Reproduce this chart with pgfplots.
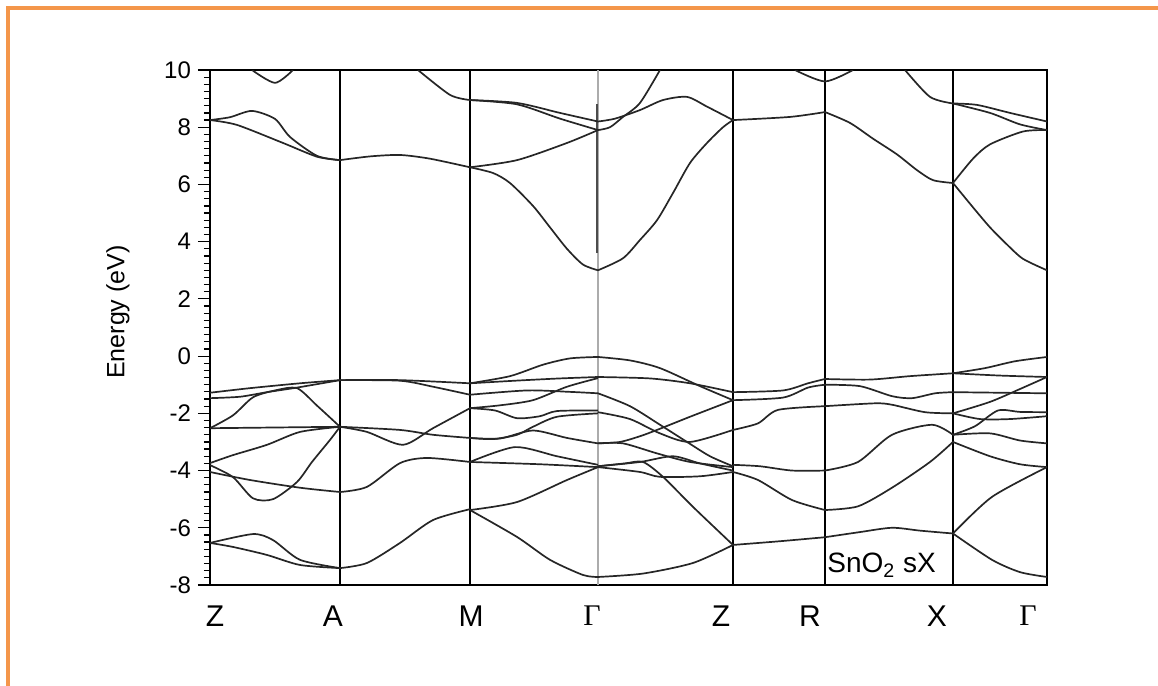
\documentclass[border=0pt]{standalone}
\usepackage{fontspec}
\setmainfont{Liberation Sans}
\newfontfamily\gfont{Liberation Serif}
\usepackage{pgfplots}
\pgfplotsset{compat=1.18}
\definecolor{frameorange}{RGB}{244,150,74}
\pgfplotsset{band/.style={no marks, smooth, tension=0.45, color=black!85, line width=0.85pt}}
\begin{document}
\begin{tikzpicture}
\useasboundingbox (-105pt,-50.5pt) rectangle (474pt,292.5pt);
\fill[frameorange] (-102pt,287.5pt) rectangle (474pt,289.5pt);
\fill[frameorange] (-102pt,-50.5pt) rectangle (-100pt,289.5pt);
\begin{axis}[
  at={(0pt,0pt)}, anchor=south west, scale only axis,
  width=418.5pt, height=257.5pt,
  xmin=210, xmax=1047, ymin=-8, ymax=10,
  xtick={215,333,471,592,721,810,937,1028},
  xticklabels={Z,A,M,{\gfont Γ},Z,R,X,{\gfont Γ}},
  ytick={-8,-6,...,10}, minor y tick num=7,
  ytick pos=left, xtick pos=bottom,
  tick align=outside, major tick length=6pt, minor tick length=3pt,
  x tick style={draw=none},
  tick style={black, line width=0.6pt},
  axis line style={line width=1pt},
  yticklabel style={font=\fontsize{12}{14}\selectfont},
  xticklabel style={font=\fontsize{15}{18}\selectfont, yshift=-1pt},
  /pgf/number format/assume math mode=true,
  ylabel={Energy (eV)},
  ylabel style={at={(axis description cs:-0.110,0.53)}, anchor=center, font=\fontsize{12.5}{15}\selectfont},
]
% vertical lines at high-symmetry points
\addplot[black, line width=0.8pt] coordinates {(340,-8) (340,10)};
\addplot[black, line width=1.1pt] coordinates {(470,-8) (470,10)};
\addplot[gray!65, line width=0.7pt] coordinates {(598,-8) (598,10)};
\addplot[black!70, line width=0.6pt] coordinates {(597,3.6) (597,8.8)};
\addplot[black, line width=0.8pt] coordinates {(733,-8) (733,10)};
\addplot[black, line width=0.8pt] coordinates {(825,-8) (825,10)};
\addplot[black, line width=0.8pt] coordinates {(953,-8) (953,10)};
% conduction bands
\addplot[band] coordinates {(252,10) (275,9.55) (293,10)};
\addplot[band] coordinates {(210,8.25) (230,8.35) (252,8.57) (275,8.29) (290,7.66) (317,7.0) (340,6.85)};
\addplot[band] coordinates {(210,8.25) (237,8.08) (283,7.45) (317,6.97) (340,6.85)};
\addplot[band] coordinates {(340,6.85) (370,6.98) (400,7.03) (430,6.9) (470,6.6)};
\addplot[band] coordinates {(470,6.6) (517,6.85) (567,7.45) (598,7.9)};
\addplot[band] coordinates {(470,6.6) (493,6.4) (510,6.05) (533,5.25) (550,4.5) (567,3.75) (583,3.2) (598,3.0)};
\addplot[band] coordinates {(418,10) (450,9.13) (470,8.95)};
\addplot[band] coordinates {(470,8.95) (517,8.85) (560,8.5) (598,8.2)};
\addplot[band] coordinates {(470,8.95) (517,8.8) (560,8.3) (598,7.9)};
\addplot[band] coordinates {(598,7.9) (610,8.0) (623,8.36) (640,8.85) (660,10)};
\addplot[band] coordinates {(598,8.2) (615,8.3) (640,8.6) (663,8.95) (687,9.06) (707,8.72) (733,8.25)};
\addplot[band] coordinates {(598,3.0) (623,3.42) (640,4.06) (657,4.75) (673,5.7) (690,6.75) (707,7.45) (723,8.0) (733,8.25)};
\addplot[band] coordinates {(733,8.25) (790,8.36) (825,8.53)};
\addplot[band] coordinates {(825,8.53) (850,8.15) (873,7.6) (897,7.05) (917,6.5) (933,6.15) (953,6.05)};
\addplot[band] coordinates {(795,10) (825,9.6) (853,10)};
\addplot[band] coordinates {(905,10) (930,9.06) (953,8.83)};
\addplot[band] coordinates {(953,8.83) (977,8.78) (1010,8.5) (1047,8.2)};
\addplot[band] coordinates {(953,8.83) (990,8.5) (1020,8.1) (1047,7.9)};
\addplot[band] coordinates {(953,6.05) (973,6.9) (990,7.4) (1023,7.85) (1047,7.9)};
\addplot[band] coordinates {(953,6.05) (973,5.2) (990,4.5) (1007,3.9) (1023,3.4) (1047,3.0)};
% valence bands: Z-A
\addplot[band] coordinates {(210,-1.28) (250,-1.12) (300,-0.95) (340,-0.84)};
\addplot[band] coordinates {(210,-1.47) (240,-1.42) (267,-1.26) (297,-1.1) (340,-0.84)};
\addplot[band] coordinates {(210,-2.52) (233,-2.07) (253,-1.44) (275,-1.2) (297,-1.12) (317,-1.73) (340,-2.47)};
\addplot[band] coordinates {(210,-2.52) (340,-2.47)};
\addplot[band] coordinates {(210,-3.74) (233,-3.46) (267,-3.1) (300,-2.65) (340,-2.47)};
\addplot[band] coordinates {(210,-3.81) (233,-4.23) (253,-4.97) (273,-5.0) (297,-4.4) (312,-3.7) (330,-2.93) (340,-2.47)};
\addplot[band] coordinates {(210,-4.05) (250,-4.33) (300,-4.6) (340,-4.75)};
\addplot[band] coordinates {(210,-6.53) (253,-6.22) (273,-6.43) (300,-7.12) (340,-7.41)};
\addplot[band] coordinates {(210,-6.53) (233,-6.67) (267,-6.95) (300,-7.3) (340,-7.41)};
% A-M
\addplot[band] coordinates {(340,-0.84) (400,-0.84) (470,-0.95)};
\addplot[band] coordinates {(340,-0.84) (400,-0.86) (433,-1.07) (470,-1.35)};
\addplot[band] coordinates {(340,-2.47) (367,-2.65) (403,-3.1) (433,-2.52) (470,-1.82)};
\addplot[band] coordinates {(340,-2.47) (400,-2.58) (433,-2.75) (470,-2.86)};
\addplot[band] coordinates {(340,-4.75) (367,-4.57) (400,-3.74) (427,-3.56) (470,-3.7)};
\addplot[band] coordinates {(340,-7.41) (367,-7.23) (400,-6.53) (433,-5.73) (470,-5.35)};
% M-Gamma
\addplot[band] coordinates {(470,-0.95) (510,-0.7) (543,-0.3) (570,-0.08) (598,-0.03)};
\addplot[band] coordinates {(470,-0.95) (520,-0.85) (560,-0.78) (598,-0.73)};
\addplot[band] coordinates {(470,-1.35) (527,-1.2) (570,-1.25) (598,-1.3)};
\addplot[band] coordinates {(470,-1.82) (500,-1.72) (533,-1.54) (567,-1.07) (598,-0.77)};
\addplot[band] coordinates {(470,-1.82) (495,-1.9) (517,-2.17) (540,-2.1) (557,-1.92) (598,-1.9)};
\addplot[band] coordinates {(470,-2.86) (493,-2.9) (517,-2.75) (533,-2.47) (557,-2.12) (598,-2.0)};
\addplot[band] coordinates {(470,-2.86) (500,-2.88) (533,-2.6) (567,-2.86) (598,-3.05)};
\addplot[band] coordinates {(470,-3.7) (515,-3.18) (557,-3.5) (598,-3.8)};
\addplot[band] coordinates {(470,-3.7) (540,-3.78) (598,-3.88)};
\addplot[band] coordinates {(470,-5.38) (517,-5.1) (567,-4.33) (598,-3.88)};
\addplot[band] coordinates {(470,-5.38) (517,-6.32) (550,-7.12) (583,-7.65) (598,-7.72)};
% Gamma-Z
\addplot[band] coordinates {(598,-0.03) (630,-0.15) (660,-0.42) (700,-1.05) (733,-1.54)};
\addplot[band] coordinates {(598,-0.73) (650,-0.78) (690,-0.95) (733,-1.26)};
\addplot[band] coordinates {(598,-1.3) (630,-1.75) (660,-2.4) (687,-3.0) (710,-3.5) (733,-3.85)};
\addplot[band] coordinates {(598,-1.96) (630,-2.2) (660,-2.7) (690,-3.0) (733,-2.58)};
\addplot[band] coordinates {(598,-3.05) (620,-3.0) (640,-2.8) (657,-2.58) (690,-2.12) (733,-1.54)};
\addplot[band] coordinates {(598,-3.05) (623,-3.05) (657,-3.4) (690,-3.7) (733,-3.88)};
\addplot[band] coordinates {(598,-3.85) (640,-3.7) (673,-3.5) (700,-3.75) (733,-4.0)};
\addplot[band] coordinates {(598,-3.88) (640,-4.05) (660,-4.22) (700,-4.2) (733,-4.05)};
\addplot[band] coordinates {(598,-3.85) (625,-3.75) (643,-3.7) (663,-4.22) (693,-5.27) (733,-6.6)};
\addplot[band] coordinates {(598,-7.72) (643,-7.6) (693,-7.23) (733,-6.6)};
% Z-R
\addplot[band] coordinates {(733,-1.26) (783,-1.2) (808,-0.95) (825,-0.8)};
\addplot[band] coordinates {(733,-1.54) (783,-1.45) (808,-1.1) (825,-1.0)};
\addplot[band] coordinates {(733,-2.58) (758,-2.35) (778,-1.88) (825,-1.75)};
\addplot[band] coordinates {(733,-3.8) (760,-3.85) (792,-4.0) (825,-4.0)};
\addplot[band] coordinates {(733,-4.05) (758,-4.33) (792,-5.03) (825,-5.38)};
\addplot[band] coordinates {(733,-6.6) (780,-6.47) (825,-6.33)};
% R-X
\addplot[band] coordinates {(825,-0.8) (870,-0.82) (910,-0.7) (953,-0.6)};
\addplot[band] coordinates {(825,-1.0) (860,-1.05) (892,-1.4) (912,-1.47) (935,-1.3) (953,-1.26)};
\addplot[band] coordinates {(825,-1.75) (875,-1.65) (892,-1.7) (925,-1.96) (953,-2.0)};
\addplot[band] coordinates {(825,-4.0) (858,-3.7) (892,-2.75) (932,-2.4) (953,-2.75)};
\addplot[band] coordinates {(825,-5.38) (858,-5.25) (892,-4.6) (930,-3.7) (953,-3.0)};
\addplot[band] coordinates {(825,-6.33) (860,-6.15) (892,-6.0) (920,-6.1) (953,-6.2)};
% X-Gamma
\addplot[band] coordinates {(953,-0.6) (985,-0.42) (1015,-0.18) (1047,-0.03)};
\addplot[band] coordinates {(953,-0.6) (1000,-0.68) (1047,-0.73)};
\addplot[band] coordinates {(953,-1.26) (1000,-1.28) (1047,-1.3)};
\addplot[band] coordinates {(953,-2.0) (990,-1.6) (1020,-1.15) (1047,-0.73)};
\addplot[band] coordinates {(953,-2.0) (980,-2.2) (1010,-2.2) (1047,-2.1)};
\addplot[band] coordinates {(953,-2.75) (975,-2.45) (998,-1.9) (1020,-1.95) (1047,-1.96)};
\addplot[band] coordinates {(953,-2.75) (990,-2.7) (1020,-2.95) (1047,-3.05)};
\addplot[band] coordinates {(953,-3.0) (990,-3.5) (1020,-3.78) (1047,-3.88)};
\addplot[band] coordinates {(953,-6.2) (992,-4.92) (1047,-3.88)};
\addplot[band] coordinates {(953,-6.2) (992,-7.12) (1020,-7.55) (1047,-7.72)};
\node[anchor=base west, inner sep=0pt, font=\fontsize{14}{16}\selectfont] at (axis cs:827,-7.58) {SnO\textsubscript{2} sX};
\end{axis}
\end{tikzpicture}
\end{document}
